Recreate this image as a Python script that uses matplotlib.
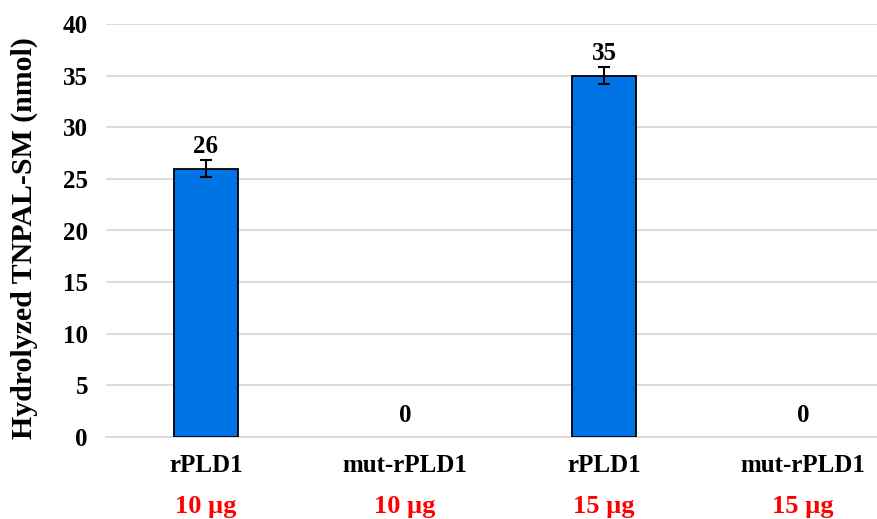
import matplotlib
matplotlib.use("Agg")
import matplotlib.pyplot as plt
from matplotlib.transforms import blended_transform_factory, offset_copy

categories = ["rPLD1", "mut-rPLD1", "rPLD1", "mut-rPLD1"]
doses = ["10 µg", "10 µg", "15 µg", "15 µg"]
values = [26, 0, 35, 0]
errors = [0.8, 0, 0.8, 0]
yticks = [0, 5, 10, 15, 20, 25, 30, 35, 40]

plt.rcParams['font.family'] = ['Liberation Serif', 'DejaVu Serif']
plt.rcParams['font.weight'] = 'bold'

W, H = 877, 519
fig = plt.figure(figsize=(W/100, H/100), dpi=100)
y0, y40 = 437, 24
left = 106
ax = fig.add_axes([left/W, 1 - y0/H, 1 - left/W, (y0 - y40)/H])

x = list(range(len(categories)))
lws = [1.3 if v > 0 else 0 for v in values]
ax.bar(x, values, width=0.32, color='#0073E6', edgecolor='black', linewidth=lws, zorder=3)
for xi, v, e in zip(x, values, errors):
    if v > 0:
        ax.errorbar(xi, v, yerr=e, fmt='none', ecolor='black', elinewidth=1.5,
                    capsize=4.3, capthick=1.5, zorder=4)
    ax.annotate(str(v), (xi, v), xytext=(0, 11), textcoords='offset points',
                ha='center', va='baseline', fontsize=18, fontweight='bold')

ax.set_xlim((left - 206) / 199, (W - 206) / 199)
ax.set_ylim(0, 40)
ax.set_yticks(yticks)
ax.tick_params(axis='y', length=0, labelsize=18, pad=13)
ax.tick_params(axis='x', length=0, labelbottom=False)
for lab in ax.get_yticklabels():
    lab.set_fontweight('bold')
ax.grid(axis='y', color='#d9d9d9', linewidth=1.3, zorder=0)
for s in ['left', 'right', 'top']:
    ax.spines[s].set_visible(False)
ax.spines['bottom'].set_color('#d9d9d9')
ax.spines['bottom'].set_linewidth(1.3)

trans = blended_transform_factory(ax.transData, fig.transFigure)
for xi, c, d in zip(x, categories, doses):
    ax.text(xi, 1 - 466/H, c, transform=trans, ha='center', va='center',
            fontsize=18, fontweight='bold')
    ax.text(xi, 1 - 506/H, d, transform=trans, ha='center', va='center',
            fontsize=19, fontweight='bold', color='#ff0000')

fig.text(24/W, 1 - 238/H, "Hydrolyzed TNPAL-SM (nmol)", rotation=90, ha='center', va='center',
         fontsize=21.5, fontweight='bold')

fig.savefig("out.png", dpi=100)
